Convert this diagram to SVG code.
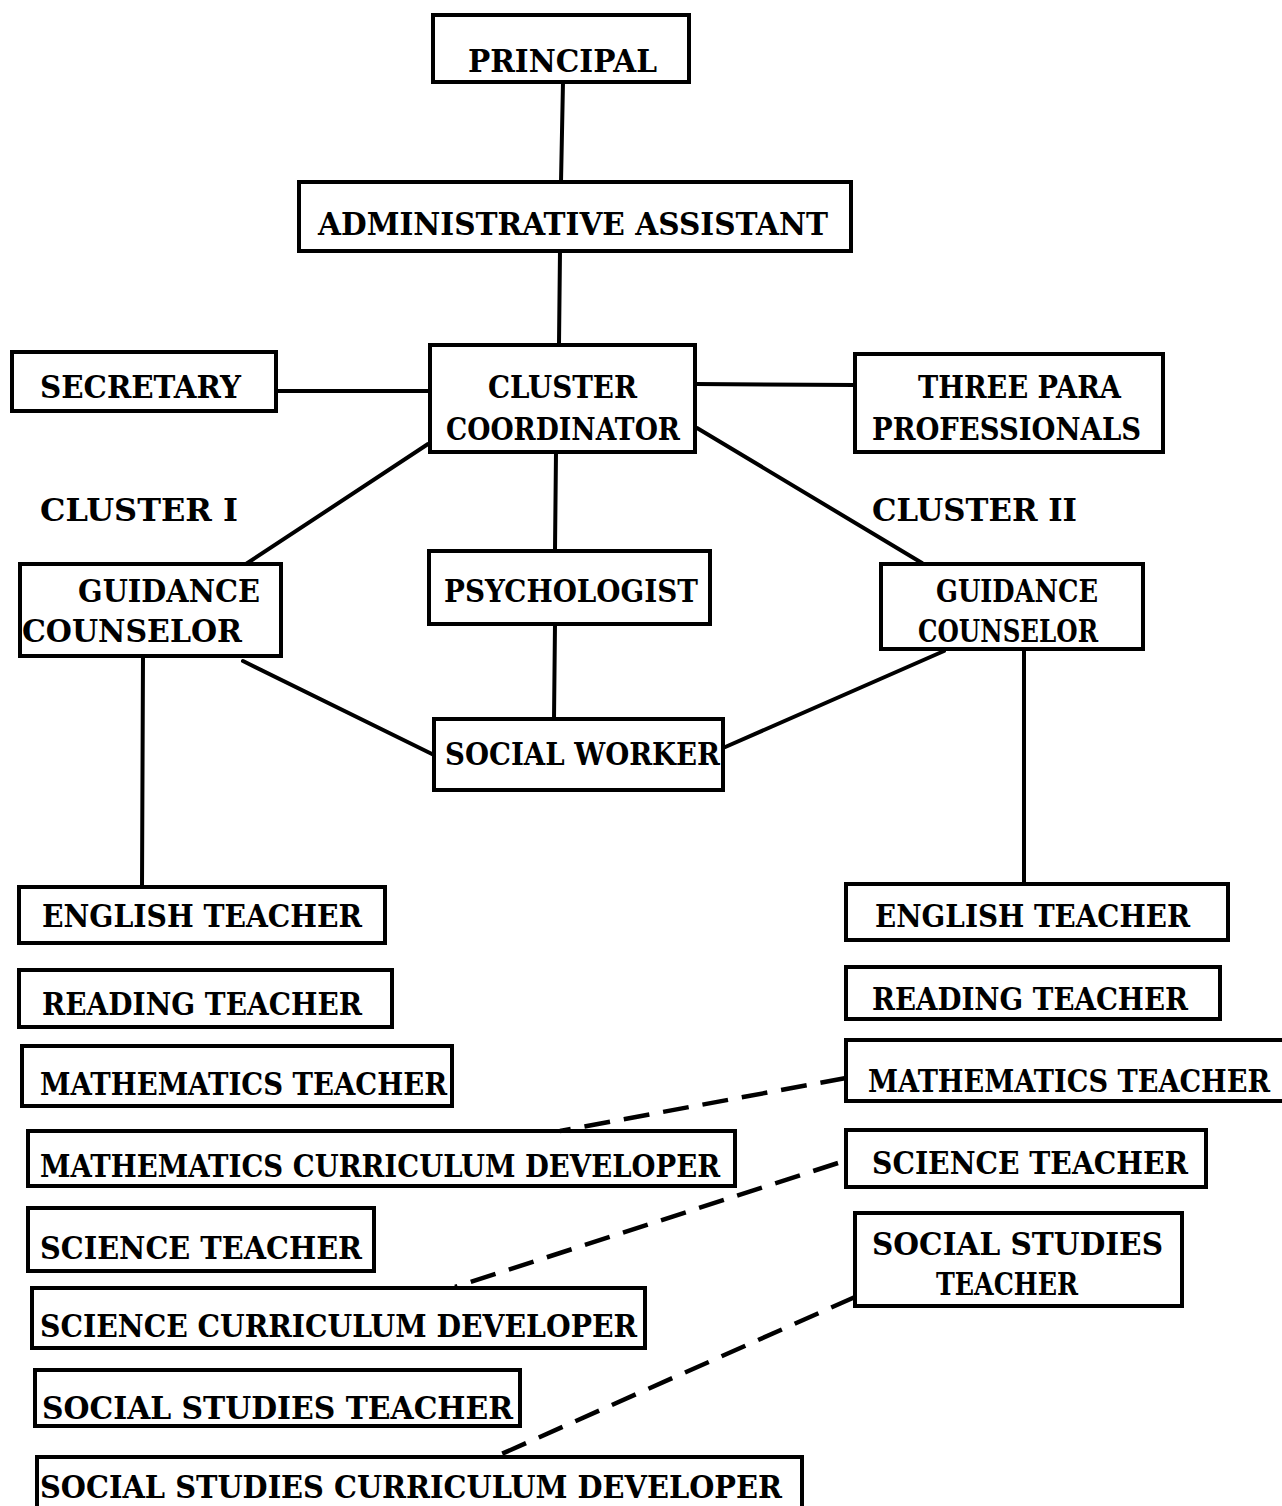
<svg xmlns="http://www.w3.org/2000/svg" width="1282" height="1506" viewBox="0 0 1282 1506">
<style>
.box{fill:none;stroke:#000;stroke-width:4;stroke-linejoin:miter}
.t{font-family:"DejaVu Serif","Liberation Serif",serif;font-weight:bold;font-size:32px;fill:#000}
.ln{stroke:#000;stroke-width:4;fill:none;stroke-linecap:round}
.dash{stroke:#000;stroke-width:4.5;fill:none;stroke-dasharray:26 14}
</style>
<rect width="1282" height="1506" fill="#fff"/>
<g id="connectors">
<line class="ln" x1="563" y1="82" x2="561" y2="182"/>
<line class="ln" x1="560" y1="251" x2="559" y2="344"/>
<line class="ln" x1="276" y1="391" x2="430" y2="391"/>
<line class="ln" x1="695" y1="384" x2="855" y2="385"/>
<line class="ln" x1="428" y1="444" x2="246" y2="564"/>
<line class="ln" x1="697" y1="428" x2="922" y2="563"/>
<line class="ln" x1="556" y1="452" x2="555" y2="550"/>
<line class="ln" x1="555" y1="624" x2="554" y2="719"/>
<line class="ln" x1="243" y1="661" x2="434" y2="755"/>
<line class="ln" x1="944" y1="651" x2="723" y2="748"/>
<line class="ln" x1="143" y1="656" x2="142" y2="887"/>
<line class="ln" x1="1024" y1="649" x2="1024" y2="883"/>
<line class="dash" x1="846" y1="1078" x2="560" y2="1131"/>
<line class="dash" x1="838" y1="1163" x2="455" y2="1287"/>
<line class="dash" x1="855" y1="1297" x2="497" y2="1456"/>
</g>
<g id="principal"><rect class="box" x="433" y="15" width="256" height="67"/><text class="t" x="468" y="72" textLength="189" lengthAdjust="spacingAndGlyphs">PRINCIPAL</text></g>
<g id="admin"><rect class="box" x="299" y="182" width="552" height="69"/><text class="t" x="318" y="235" textLength="510" lengthAdjust="spacingAndGlyphs">ADMINISTRATIVE ASSISTANT</text></g>
<g id="coordinator"><rect class="box" x="430" y="345" width="265" height="107"/><text class="t" x="488" y="398" textLength="149" lengthAdjust="spacingAndGlyphs">CLUSTER</text><text class="t" x="446" y="440" textLength="234" lengthAdjust="spacingAndGlyphs">COORDINATOR</text></g>
<g id="secretary"><rect class="box" x="12" y="352" width="264" height="59"/><text class="t" x="40" y="398" textLength="201" lengthAdjust="spacingAndGlyphs">SECRETARY</text></g>
<g id="para"><rect class="box" x="855" y="354" width="308" height="98"/><text class="t" x="918" y="398" textLength="203" lengthAdjust="spacingAndGlyphs">THREE PARA</text><text class="t" x="872" y="440" textLength="269" lengthAdjust="spacingAndGlyphs">PROFESSIONALS</text></g>
<g id="cluster1"><text class="t" x="40" y="521" textLength="198" lengthAdjust="spacingAndGlyphs">CLUSTER I</text></g>
<g id="cluster2"><text class="t" x="872" y="521" textLength="205" lengthAdjust="spacingAndGlyphs">CLUSTER II</text></g>
<g id="gc1"><rect class="box" x="20" y="564" width="261" height="92"/><text class="t" x="78" y="602" textLength="182" lengthAdjust="spacingAndGlyphs">GUIDANCE</text><text class="t" x="22" y="642" textLength="220" lengthAdjust="spacingAndGlyphs">COUNSELOR</text></g>
<g id="psychologist"><rect class="box" x="429" y="551" width="281" height="73"/><text class="t" x="444" y="602" textLength="254" lengthAdjust="spacingAndGlyphs">PSYCHOLOGIST</text></g>
<g id="socialworker"><rect class="box" x="434" y="719" width="289" height="71"/><text class="t" x="445" y="765" textLength="275" lengthAdjust="spacingAndGlyphs">SOCIAL WORKER</text></g>
<g id="gc2"><rect class="box" x="881" y="564" width="262" height="85"/><text class="t" x="936" y="602" textLength="162" lengthAdjust="spacingAndGlyphs">GUIDANCE</text><text class="t" x="918" y="642" textLength="180" lengthAdjust="spacingAndGlyphs">COUNSELOR</text></g>
<g id="l-english"><rect class="box" x="19" y="887" width="366" height="56"/><text class="t" x="42" y="927" textLength="320" lengthAdjust="spacingAndGlyphs">ENGLISH TEACHER</text></g>
<g id="l-reading"><rect class="box" x="19" y="970" width="373" height="57"/><text class="t" x="42" y="1015" textLength="320" lengthAdjust="spacingAndGlyphs">READING TEACHER</text></g>
<g id="l-math"><rect class="box" x="22" y="1046" width="430" height="60"/><text class="t" x="40" y="1095" textLength="407" lengthAdjust="spacingAndGlyphs">MATHEMATICS TEACHER</text></g>
<g id="l-mathdev"><rect class="box" x="28" y="1131" width="707" height="55"/><text class="t" x="40" y="1177" textLength="680" lengthAdjust="spacingAndGlyphs">MATHEMATICS CURRICULUM DEVELOPER</text></g>
<g id="l-science"><rect class="box" x="28" y="1208" width="346" height="63"/><text class="t" x="40" y="1259" textLength="322" lengthAdjust="spacingAndGlyphs">SCIENCE TEACHER</text></g>
<g id="l-scidev"><rect class="box" x="32" y="1288" width="613" height="60"/><text class="t" x="40" y="1337" textLength="597" lengthAdjust="spacingAndGlyphs">SCIENCE CURRICULUM DEVELOPER</text></g>
<g id="l-social"><rect class="box" x="35" y="1370" width="485" height="56"/><text class="t" x="42" y="1419" textLength="471" lengthAdjust="spacingAndGlyphs">SOCIAL STUDIES TEACHER</text></g>
<g id="l-socdev"><path class="box" d="M37,1512 V1457 H802 V1512"/><text class="t" x="40" y="1498" textLength="742" lengthAdjust="spacingAndGlyphs">SOCIAL STUDIES CURRICULUM DEVELOPER</text></g>
<g id="r-english"><rect class="box" x="846" y="884" width="382" height="56"/><text class="t" x="875" y="927" textLength="315" lengthAdjust="spacingAndGlyphs">ENGLISH TEACHER</text></g>
<g id="r-reading"><rect class="box" x="846" y="967" width="374" height="52"/><text class="t" x="872" y="1010" textLength="316" lengthAdjust="spacingAndGlyphs">READING TEACHER</text></g>
<g id="r-math"><path class="box" d="M1290,1040 H846 V1101 H1290"/><text class="t" x="868" y="1092" textLength="402" lengthAdjust="spacingAndGlyphs">MATHEMATICS TEACHER</text></g>
<g id="r-science"><rect class="box" x="846" y="1130" width="360" height="57"/><text class="t" x="872" y="1174" textLength="316" lengthAdjust="spacingAndGlyphs">SCIENCE TEACHER</text></g>
<g id="r-social"><rect class="box" x="855" y="1213" width="327" height="93"/><text class="t" x="872" y="1255" textLength="291" lengthAdjust="spacingAndGlyphs">SOCIAL STUDIES</text><text class="t" x="936" y="1295" textLength="142" lengthAdjust="spacingAndGlyphs">TEACHER</text></g>
</svg>
